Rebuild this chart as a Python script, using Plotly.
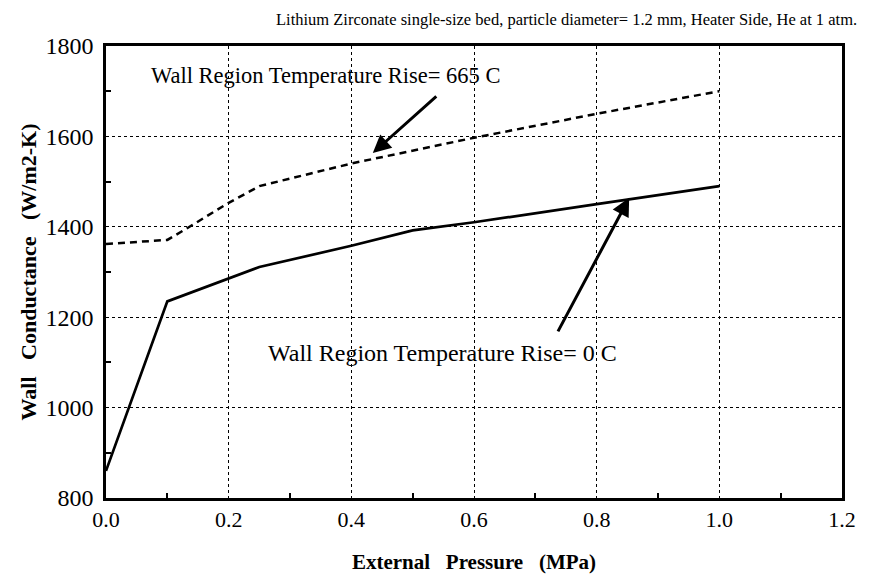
import plotly.graph_objects as go

# Data
pressure_0C = [0.0, 0.1, 0.25, 0.4, 0.5, 0.6, 0.8, 1.0]
conduct_0C = [860, 1235, 1311, 1358, 1392, 1410, 1450, 1490]

pressure_665C = [0.0, 0.1, 0.13, 0.2, 0.25, 0.4, 0.6, 0.8, 1.0]
conduct_665C = [1362, 1371, 1395, 1453, 1490, 1540, 1597, 1650, 1700]

x_ticks = [0.0, 0.2, 0.4, 0.6, 0.8, 1.0, 1.2]
x_tick_labels = ["0.0", "0.2", "0.4", "0.6", "0.8", "1.0", "1.2"]
y_ticks = [800, 1000, 1200, 1400, 1600, 1800]

title_text = "Lithium Zirconate single-size bed, particle diameter= 1.2 mm, Heater Side, He at 1 atm."
label_665 = "Wall Region Temperature Rise= 665 C"
label_0 = "Wall Region Temperature Rise= 0 C"

SERIF = "Liberation Serif"
NB = "\u00a0" * 3

# plot area in window pixels: x 106..842, y 46..498 (page body has an 8px margin)
PL, PR, PT, PB = 106, 842, 46, 498
PW, PH = PR - PL, PB - PT


def px(xw):
    return (xw - PL) / PW


def py(yw):
    return (PB - yw) / PH


fig = go.Figure()
fig.add_trace(go.Scatter(x=pressure_665C, y=conduct_665C, mode="lines",
                         line=dict(color="black", width=2.5, dash="7px,5px"),
                         showlegend=False))
fig.add_trace(go.Scatter(x=pressure_0C, y=conduct_0C, mode="lines",
                         line=dict(color="black", width=2.7),
                         showlegend=False))

# Arrows
fig.add_annotation(x=0.435, y=1563, ax=65, ay=-58, axref="pixel", ayref="pixel",
                   text="", showarrow=True, arrowhead=2, arrowsize=1.2, arrowwidth=3,
                   arrowcolor="black")
fig.add_annotation(x=0.853, y=1464, ax=-72, ay=135, axref="pixel", ayref="pixel",
                   text="", showarrow=True, arrowhead=2, arrowsize=1.2, arrowwidth=3,
                   arrowcolor="black")

# Labels
fig.add_annotation(x=px(325), y=py(75), xref="paper", yref="paper",
                   xanchor="center", yanchor="middle",
                   text=label_665, showarrow=False,
                   font=dict(family=SERIF, size=22.5, color="black"))
fig.add_annotation(x=px(442), y=py(353), xref="paper", yref="paper",
                   xanchor="center", yanchor="middle",
                   text=label_0, showarrow=False,
                   font=dict(family=SERIF, size=24, color="black"))
fig.add_annotation(x=px(566), y=py(9), xref="paper", yref="paper",
                   xanchor="center", yanchor="top", borderpad=0,
                   text=title_text, showarrow=False,
                   font=dict(family=SERIF, size=16.5, color="black"))

fig.update_layout(
    width=885 - 8, height=582 - 8,
    margin=dict(l=PL - 8, r=885 - PR, t=PT - 8, b=582 - PB),
    paper_bgcolor="white", plot_bgcolor="white",
    font=dict(family=SERIF, color="black"),
    xaxis=dict(
        range=[0, 1.2], tickvals=x_ticks, ticktext=x_tick_labels,
        showgrid=True, gridcolor="black", griddash="dot", gridwidth=1,
        showline=True, linecolor="black", linewidth=2.5, mirror=True,
        ticks="", tickfont=dict(family=SERIF, size=22),
        zeroline=False,
        minor=dict(tickvals=[0.1, 0.3, 0.5, 0.7, 0.9, 1.1], ticks="inside",
                   ticklen=5, tickcolor="black", tickwidth=2, showgrid=False),
        title=dict(text="<b>External" + NB + "Pressure" + NB + "(MPa)</b>",
                   font=dict(family=SERIF, size=21), standoff=24),
    ),
    yaxis=dict(
        range=[800, 1800], tickvals=y_ticks,
        showgrid=True, gridcolor="black", griddash="dot", gridwidth=1,
        showline=True, linecolor="black", linewidth=2.5, mirror=True,
        ticks="", tickfont=dict(family=SERIF, size=24), ticklabelstandoff=5,
        zeroline=False,
        minor=dict(tickvals=[900, 1100, 1300, 1500, 1700], ticks="inside",
                   ticklen=5, tickcolor="black", tickwidth=2, showgrid=False),
        title=dict(text="<b>Wall" + NB + "Conductance" + NB + "(W/m2-K)</b>",
                   font=dict(family=SERIF, size=22), standoff=3),
    ),
)

fig.write_html("out.html")
